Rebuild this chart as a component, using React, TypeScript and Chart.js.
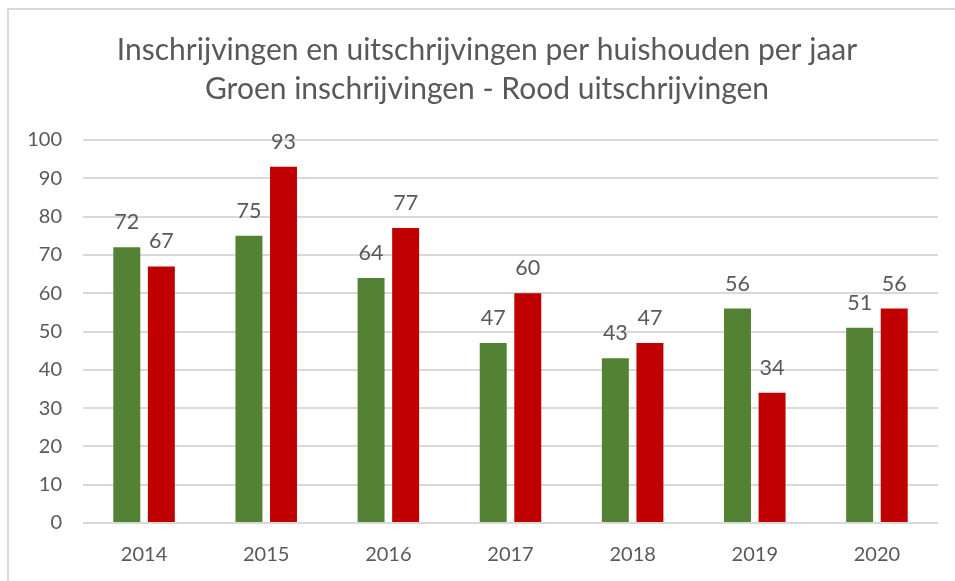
import React, { useEffect, useRef } from "react";
import { Chart, registerables } from "chart.js";

Chart.register(...registerables);

const categories = ["2014", "2015", "2016", "2017", "2018", "2019", "2020"];
const inschrijvingen = [72, 75, 64, 47, 43, 56, 51];
const uitschrijvingen = [67, 93, 77, 60, 47, 34, 56];
const titleLines = [
  "Inschrijvingen en uitschrijvingen per huishouden per jaar",
  "Groen inschrijvingen - Rood uitschrijvingen",
];

const FONT = "Lato, 'Open Sans', sans-serif";
const TEXT = "#595959";

const labelsPlugin = {
  id: "barLabels",
  afterDatasetsDraw(chart: any) {
    const ctx = chart.ctx;
    ctx.save();
    ctx.fillStyle = TEXT;
    ctx.font = `21.5px ${FONT}`;
    ctx.textAlign = "center";
    ctx.textBaseline = "alphabetic";
    chart.data.datasets.forEach((ds: any, i: number) => {
      const meta = chart.getDatasetMeta(i);
      meta.data.forEach((bar: any, j: number) => {
        ctx.fillText(String(ds.data[j]), bar.x, bar.y - 18);
      });
    });
    ctx.restore();
  },
};

const titlePlugin = {
  id: "customTitle",
  afterDraw(chart: any) {
    const ctx = chart.ctx;
    ctx.save();
    ctx.fillStyle = TEXT;
    ctx.font = `30px ${FONT}`;
    ctx.textAlign = "center";
    ctx.textBaseline = "alphabetic";
    ctx.fillText(titleLines[0], 487, 60);
    ctx.fillText(titleLines[1], 487, 99);
    ctx.restore();
  },
};

export default function App() {
  const ref = useRef<HTMLCanvasElement>(null);
  useEffect(() => {
    if (!ref.current) return;
    const chart = new Chart(ref.current, {
      type: "bar",
      data: {
        labels: categories,
        datasets: [
          {
            label: "Inschrijvingen",
            data: inschrijvingen,
            backgroundColor: "#548235",
            categoryPercentage: 0.566,
            barPercentage: 0.78,
          },
          {
            label: "Uitschrijvingen",
            data: uitschrijvingen,
            backgroundColor: "#C00000",
            categoryPercentage: 0.566,
            barPercentage: 0.78,
          },
        ],
      },
      options: {
        responsive: false,
        animation: false,
        layout: { padding: { top: 140, right: 17, left: 0, bottom: 0 } },
        plugins: {
          legend: { display: false },
          title: { display: false },
          tooltip: { enabled: false },
        },
        scales: {
          x: {
            grid: { display: false, drawTicks: false },
            border: { display: false },
            ticks: { color: TEXT, font: { family: FONT, size: 20 }, padding: 20 },
            afterFit: (s: any) => {
              s.height = 58;
            },
          },
          y: {
            min: 0,
            max: 100,
            ticks: { stepSize: 10, color: TEXT, font: { family: FONT, size: 20 }, padding: 21 },
            grid: { color: "#d9d9d9", lineWidth: 2, drawTicks: false },
            border: { display: false },
            afterFit: (s: any) => {
              s.width = 83;
            },
          },
        },
      },
      plugins: [labelsPlugin, titlePlugin],
    });
    return () => chart.destroy();
  }, []);
  return (
    <div style={{ position: "fixed", left: 0, top: 0, width: 955, height: 581, background: "#fff", overflow: "hidden" }}>
      <div
        style={{
          position: "absolute",
          left: 7,
          top: 8,
          width: 980,
          height: 620,
          border: "2px solid #d9d9d9",
          boxSizing: "border-box",
        }}
      />
      <canvas ref={ref} width={955} height={581} style={{ position: "absolute", left: 0, top: 0 }} />
    </div>
  );
}
